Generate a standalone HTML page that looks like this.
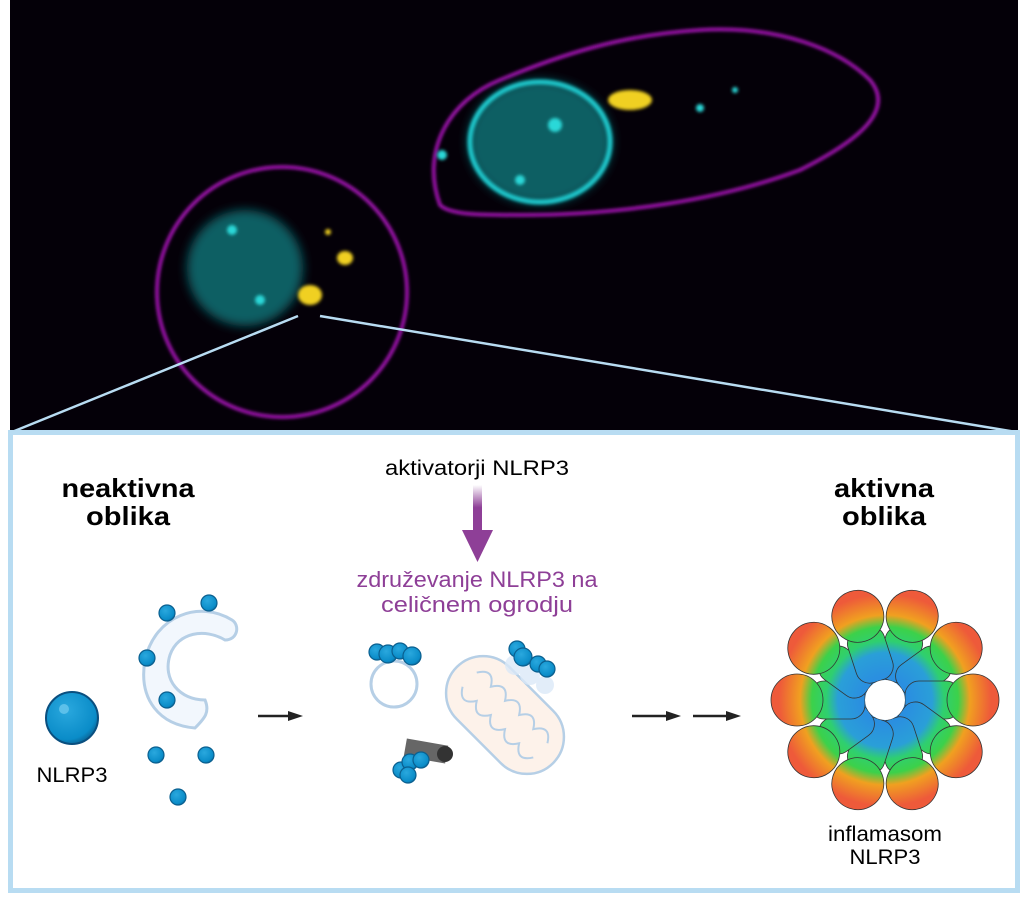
<!DOCTYPE html>
<html><head><meta charset="utf-8"><style>
html,body{margin:0;padding:0;background:#fff;}
svg{display:block;}
text{font-family:"Liberation Sans",sans-serif;}
</style></head><body>
<svg width="1024" height="898" viewBox="0 0 1024 898" xmlns="http://www.w3.org/2000/svg">
<defs>
<radialGradient id="inf" gradientUnits="userSpaceOnUse" cx="885" cy="700" r="118">
<stop offset="0.2" stop-color="#2a8fe0"/>
<stop offset="0.4" stop-color="#2a9fd8"/>
<stop offset="0.5" stop-color="#2fcf70"/>
<stop offset="0.62" stop-color="#3cd14a"/>
<stop offset="0.72" stop-color="#f0a020"/>
<stop offset="0.9" stop-color="#ee5a3a"/>
</radialGradient>
<radialGradient id="ball" cx="0.4" cy="0.35" r="0.7">
<stop offset="0" stop-color="#2aa8de"/><stop offset="0.8" stop-color="#0a8cc8"/><stop offset="1" stop-color="#0a5f8f"/>
</radialGradient>
<linearGradient id="arr" x1="0" y1="0" x2="0" y2="1">
<stop offset="0" stop-color="#8e3f97" stop-opacity="0"/><stop offset="0.5" stop-color="#8e3f97"/>
</linearGradient>
<filter id="bl"><feGaussianBlur stdDeviation="1.5"/></filter>
<filter id="bl2"><feGaussianBlur stdDeviation="5"/></filter>
</defs>
<rect x="10" y="0" width="1008" height="432" fill="#040008"/>
<g filter="url(#bl)" fill="none" stroke="#a818b8" stroke-width="3.5">
<path d="M440,205 C420,150 450,100 500,80 C560,55 620,35 700,30 C780,25 840,50 870,80 C895,110 860,140 800,170 C720,200 620,215 520,215 C480,215 450,215 440,205 Z"/>
<circle cx="282" cy="292" r="125"/>
</g>
<g filter="url(#bl2)">
<ellipse cx="540" cy="142" rx="72" ry="62" fill="#0d5e64"/>
<ellipse cx="245" cy="268" rx="58" ry="58" fill="#0d5e64"/>
</g>
<g filter="url(#bl)" fill="none" stroke="#1fc8cc" stroke-width="5">
<ellipse cx="540" cy="142" rx="70" ry="60"/>
</g>
<g filter="url(#bl)" fill="#2ad8d8">
<circle cx="555" cy="125" r="7"/><circle cx="520" cy="180" r="5"/><circle cx="232" cy="230" r="5"/><circle cx="260" cy="300" r="5"/><circle cx="442" cy="155" r="5"/>
<circle cx="700" cy="108" r="4"/><circle cx="735" cy="90" r="3"/>
</g>
<g filter="url(#bl)" fill="#f0d020">
<ellipse cx="630" cy="100" rx="22" ry="10"/><ellipse cx="345" cy="258" rx="8" ry="7"/><ellipse cx="310" cy="295" rx="12" ry="10"/><circle cx="328" cy="232" r="3"/>
</g>
<line x1="12" y1="432" x2="298" y2="316" stroke="#b8dcf2" stroke-width="2.5"/>
<line x1="1016" y1="432" x2="320" y2="316" stroke="#b8dcf2" stroke-width="2.5"/>
<rect x="10.5" y="432.5" width="1007" height="458" fill="#fff" stroke="#b8dcf2" stroke-width="5"/>
<text x="128" y="497" font-size="26" font-weight="bold" text-anchor="middle" textLength="133" lengthAdjust="spacingAndGlyphs">neaktivna</text>
<text x="128" y="525" font-size="26" font-weight="bold" text-anchor="middle" textLength="84" lengthAdjust="spacingAndGlyphs">oblika</text>
<text x="884" y="497" font-size="26" font-weight="bold" text-anchor="middle" textLength="100" lengthAdjust="spacingAndGlyphs">aktivna</text>
<text x="884" y="525" font-size="26" font-weight="bold" text-anchor="middle" textLength="84" lengthAdjust="spacingAndGlyphs">oblika</text>
<text x="477" y="475" font-size="21" text-anchor="middle" textLength="184" lengthAdjust="spacingAndGlyphs">aktivatorji NLRP3</text>
<rect x="473" y="485" width="9" height="45" fill="url(#arr)"/>
<polygon points="462,530 493,530 477.5,562" fill="#8e3f97"/>
<text x="477" y="587" font-size="22" fill="#8e3f97" text-anchor="middle" textLength="241" lengthAdjust="spacingAndGlyphs">združevanje NLRP3 na</text>
<text x="477" y="612" font-size="22" fill="#8e3f97" text-anchor="middle" textLength="192" lengthAdjust="spacingAndGlyphs">celičnem ogrodju</text>
<text x="72" y="782" font-size="21" text-anchor="middle" textLength="71" lengthAdjust="spacingAndGlyphs">NLRP3</text>
<text x="885" y="841" font-size="21" text-anchor="middle" textLength="114" lengthAdjust="spacingAndGlyphs">inflamasom</text>
<text x="885" y="864" font-size="21" text-anchor="middle" textLength="71" lengthAdjust="spacingAndGlyphs">NLRP3</text>
<circle cx="72" cy="718" r="26" fill="url(#ball)" stroke="#0a4f7f" stroke-width="2"/>
<circle cx="64" cy="709" r="5" fill="#5cc0ea"/>
<path d="M232,620 C200,600 155,615 145,660 C138,700 160,725 195,728 C205,718 210,712 205,700 C180,700 162,680 170,655 C178,632 205,628 225,640 C238,640 240,625 232,620 Z" fill="#f2f7fd" stroke="#b6cfe6" stroke-width="3"/>
<g fill="url(#ball)" stroke="#0a5f8f" stroke-width="1.2">
<circle cx="167" cy="613" r="8"/><circle cx="209" cy="603" r="8"/><circle cx="147" cy="658" r="8"/><circle cx="167" cy="700" r="8"/>
<circle cx="156" cy="755" r="8"/><circle cx="206" cy="755" r="8"/><circle cx="178" cy="797" r="8"/>
</g>
<g stroke="#222" stroke-width="2.5"><line x1="258" y1="716" x2="290" y2="716"/><line x1="632" y1="716" x2="668" y2="716"/><line x1="693" y1="716" x2="728" y2="716"/></g>
<g fill="#222"><polygon points="288,711 303,716 288,721"/><polygon points="666,711 681,716 666,721"/><polygon points="726,711 741,716 726,721"/></g>
<circle cx="394" cy="684" r="23" fill="#fff" stroke="#b6cfe6" stroke-width="3"/>
<g transform="rotate(45 505 715)">
<rect x="437" y="678" width="136" height="74" rx="37" fill="#fdf2ea" stroke="#b6cfe6" stroke-width="2.5"/>
<path d="M455,705 q10,-16 20,0 q10,-16 20,0 q10,-16 20,0 q10,-16 20,0 q10,-16 20,0 M455,725 q10,16 20,0 q10,16 20,0 q10,16 20,0 q10,16 20,0 q10,16 20,0" fill="none" stroke="#b6cfe6" stroke-width="2"/>
</g>
<g fill="#dbe9f8" opacity="0.8"><circle cx="515" cy="665" r="10"/><circle cx="530" cy="675" r="10"/><circle cx="545" cy="685" r="9"/></g>
<rect x="405" y="742" width="42" height="18" fill="#666" transform="rotate(10 426 751)"/>
<circle cx="445" cy="754" r="8" fill="#333"/>
<g fill="url(#ball)" stroke="#0a5f8f" stroke-width="1.2">
<circle cx="377" cy="652" r="8"/><circle cx="388" cy="654" r="9"/><circle cx="400" cy="651" r="8"/><circle cx="412" cy="656" r="9"/>
<circle cx="517" cy="649" r="8"/><circle cx="523" cy="657" r="9"/><circle cx="538" cy="664" r="8"/><circle cx="547" cy="669" r="8"/>
<circle cx="401" cy="770" r="8"/><circle cx="410" cy="762" r="8"/><circle cx="421" cy="760" r="8"/><circle cx="408" cy="775" r="8"/>
</g>
<g fill="url(#inf)" stroke="#333" stroke-width="0.8">
<circle cx="885" cy="700" r="52"/>
<g id="arm">
<rect x="866" y="625" width="38" height="55" rx="14" transform="rotate(18 885 700)"/>
<circle cx="885" cy="612" r="26" transform="rotate(18 885 700)"/>
</g>
<use href="#arm" transform="rotate(36 885 700)"/><use href="#arm" transform="rotate(72 885 700)"/><use href="#arm" transform="rotate(108 885 700)"/><use href="#arm" transform="rotate(144 885 700)"/><use href="#arm" transform="rotate(180 885 700)"/><use href="#arm" transform="rotate(216 885 700)"/><use href="#arm" transform="rotate(252 885 700)"/><use href="#arm" transform="rotate(288 885 700)"/><use href="#arm" transform="rotate(324 885 700)"/>
</g>
<circle cx="885" cy="700" r="20" fill="#fff"/>
</svg>
</body></html>
